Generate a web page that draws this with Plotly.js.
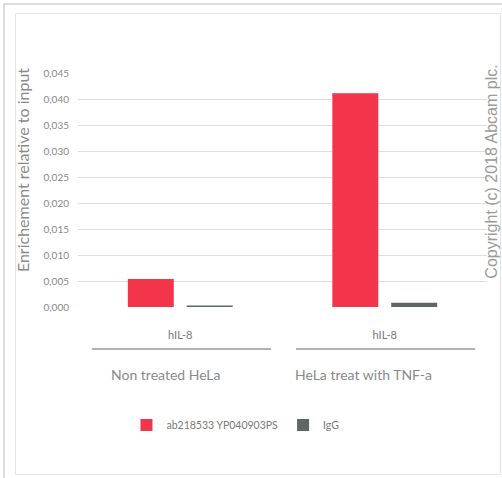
<!DOCTYPE html>
<html>
<head>
<meta charset="utf-8">
<script src="https://cdn.plot.ly/plotly-3.0.1.min.js"></script>
<style>
  html, body { margin: 0; padding: 0; background: #fff; }
  #wrap { position: relative; width: 502px; height: 478px; overflow: hidden; }
  #outerTop { position: absolute; left: 3px; top: 3px; width: 499px; height: 0; border-top: 2px solid #dcdcdc; }
  #outerLeft { position: absolute; left: 3px; top: 3px; width: 0; height: 475px; border-left: 2px solid #dcdcdc; }
  #inner { position: absolute; left: 15px; top: 13px; width: 484px; height: 460px; border: 1px solid #e4e4e4; }
  #chart { position: absolute; left: 0; top: 0; width: 502px; height: 478px; }
</style>
</head>
<body>
<div id="wrap">
  <div id="outerTop"></div>
  <div id="outerLeft"></div>
  <div id="inner"></div>
  <div id="chart"></div>
</div>
<script>
// Data
var groups = ["Non treated HeLa", "HeLa treat with TNF-a"];
var geneLabels = ["hIL-8", "hIL-8"];
var seriesNames = ["ab218533 YP040903PS", "IgG"];
var antibodyValues = [0.0054, 0.0411];
var iggValues = [0.0003, 0.0008];
var yTicks = [0, 0.005, 0.010, 0.015, 0.020, 0.025, 0.030, 0.035, 0.040, 0.045];

var fontFam = "Lato, 'Open Sans', sans-serif";

var traces = [
  { type: "bar", name: seriesNames[0], x: groups, y: antibodyValues,
    marker: { color: "#f2354b" }, hoverinfo: "y" },
  { type: "bar", name: seriesNames[1], x: groups, y: iggValues,
    marker: { color: "#5d6866" }, hoverinfo: "y" }
];

var layout = {
  width: 502, height: 478,
  margin: { l: 78, r: 15, t: 73, b: 171 },
  paper_bgcolor: "rgba(0,0,0,0)",
  plot_bgcolor: "rgba(0,0,0,0)",
  separators: ", ",
  barmode: "group",
  bargap: 0.424,
  bargroupgap: 0.22,
  showlegend: true,
  legend: { orientation: "h", x: 0.385, xanchor: "center", y: -0.504, yanchor: "middle",
            font: { family: fontFam, size: 10.5, color: "#7a7a7a" }, itemwidth: 30, tracegroupgap: 0 },
  font: { family: fontFam, color: "#8a8a8a" },
  xaxis: {
    type: "category",
    tickvals: groups, ticktext: geneLabels,
    ticks: "", showline: false, showgrid: false, zeroline: false,
    ticklabelstandoff: 20,
    tickfont: { family: fontFam, size: 11, color: "#777" }
  },
  yaxis: {
    range: [0, 0.045],
    tickvals: yTicks,
    tickformat: ".3f",
    showgrid: true, gridcolor: "#dedede", gridwidth: 1,
    zeroline: false, showline: false, ticks: "",
    ticklabelstandoff: 8,
    tickfont: { family: fontFam, size: 10, color: "#888" }
  },
  shapes: [
    { type: "line", xref: "paper", yref: "paper", x0: 0.034, x1: 0.472, y0: -0.179, y1: -0.179,
      line: { color: "#9a9a9a", width: 1.5 } },
    { type: "line", xref: "paper", yref: "paper", x0: 0.533, x1: 0.971, y0: -0.179, y1: -0.179,
      line: { color: "#9a9a9a", width: 1.5 } }
  ],
  annotations: [
    { text: groups[0], xref: "paper", yref: "paper", x: 0.215, y: -0.29, xanchor: "center", yanchor: "middle",
      showarrow: false, font: { family: fontFam, size: 14, color: "#8a8a8a" } },
    { text: groups[1], xref: "paper", yref: "paper", x: 0.699, y: -0.29, xanchor: "center", yanchor: "middle",
      showarrow: false, font: { family: fontFam, size: 14, color: "#8a8a8a" } },
    { text: "Enrichement relative to input", xref: "paper", yref: "paper",
      x: -0.137, y: 0.585, xanchor: "center", yanchor: "middle", textangle: -90, showarrow: false,
      font: { family: fontFam, size: 16, color: "#8a8a8a" } },
    { text: "Copyright (c) 2018 Abcam plc.", xref: "paper", yref: "paper",
      x: 1.012, y: 0.578, xanchor: "center", yanchor: "middle", textangle: -90, showarrow: false,
      font: { family: "'Liberation Sans', Arial, sans-serif", size: 16, color: "#9a9a9a" } }
  ]
};

Plotly.newPlot("chart", traces, layout, { displayModeBar: false, staticPlot: true });
</script>
</body>
</html>
